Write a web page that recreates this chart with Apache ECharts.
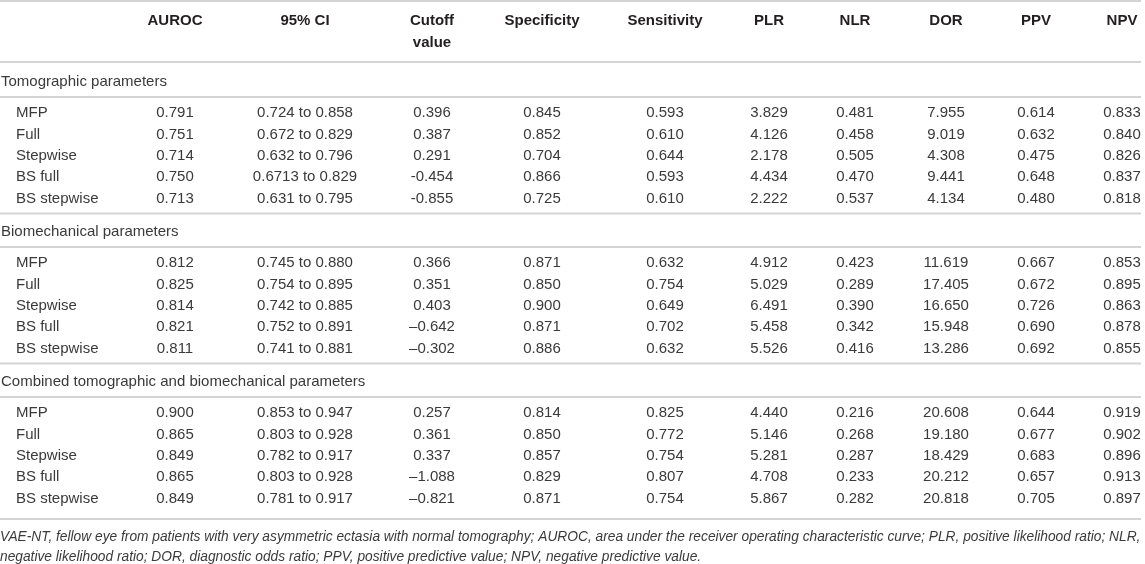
<!DOCTYPE html>
<html>
<head>
<meta charset="utf-8">
<script src="https://cdn.jsdelivr.net/npm/echarts@6/dist/echarts.min.js"></script>
<style>
  html, body { margin: 0; padding: 0; background: #fff; }
  #main { width: 1145px; height: 564px; }
</style>
</head>
<body>
<div id="main"></div>
<script>
var headers = ['AUROC', '95% CI', 'Cutoff', 'Specificity', 'Sensitivity', 'PLR', 'NLR', 'DOR', 'PPV', 'NPV'];
var headers2 = ['', '', 'value', '', '', '', '', '', '', ''];
var models = ['MFP', 'Full', 'Stepwise', 'BS full', 'BS stepwise'];
var sections = [
  'Tomographic parameters',
  'Biomechanical parameters',
  'Combined tomographic and biomechanical parameters'
];

var tomographic = [
  ['0.791', '0.724 to 0.858', '0.396', '0.845', '0.593', '3.829', '0.481', '7.955', '0.614', '0.833'],
  ['0.751', '0.672 to 0.829', '0.387', '0.852', '0.610', '4.126', '0.458', '9.019', '0.632', '0.840'],
  ['0.714', '0.632 to 0.796', '0.291', '0.704', '0.644', '2.178', '0.505', '4.308', '0.475', '0.826'],
  ['0.750', '0.6713 to 0.829', '-0.454', '0.866', '0.593', '4.434', '0.470', '9.441', '0.648', '0.837'],
  ['0.713', '0.631 to 0.795', '-0.855', '0.725', '0.610', '2.222', '0.537', '4.134', '0.480', '0.818']
];
var biomechanical = [
  ['0.812', '0.745 to 0.880', '0.366', '0.871', '0.632', '4.912', '0.423', '11.619', '0.667', '0.853'],
  ['0.825', '0.754 to 0.895', '0.351', '0.850', '0.754', '5.029', '0.289', '17.405', '0.672', '0.895'],
  ['0.814', '0.742 to 0.885', '0.403', '0.900', '0.649', '6.491', '0.390', '16.650', '0.726', '0.863'],
  ['0.821', '0.752 to 0.891', '\u20130.642', '0.871', '0.702', '5.458', '0.342', '15.948', '0.690', '0.878'],
  ['0.811', '0.741 to 0.881', '\u20130.302', '0.886', '0.632', '5.526', '0.416', '13.286', '0.692', '0.855']
];
var combined = [
  ['0.900', '0.853 to 0.947', '0.257', '0.814', '0.825', '4.440', '0.216', '20.608', '0.644', '0.919'],
  ['0.865', '0.803 to 0.928', '0.361', '0.850', '0.772', '5.146', '0.268', '19.180', '0.677', '0.902'],
  ['0.849', '0.782 to 0.917', '0.337', '0.857', '0.754', '5.281', '0.287', '18.429', '0.683', '0.896'],
  ['0.865', '0.803 to 0.928', '\u20131.088', '0.829', '0.807', '4.708', '0.233', '20.212', '0.657', '0.913'],
  ['0.849', '0.781 to 0.917', '\u20130.821', '0.871', '0.754', '5.867', '0.282', '20.818', '0.705', '0.897']
];

var footnote = [
  'VAE-NT, fellow eye from patients with very asymmetric ectasia with normal tomography; AUROC, area under the receiver operating characteristic curve; PLR, positive likelihood ratio; NLR,',
  'negative likelihood ratio; DOR, diagnostic odds ratio; PPV, positive predictive value; NPV, negative predictive value.'
];

// layout (pixels of the 1145x564 canvas, mapped through hidden value axes)
var colX = [175, 305, 432, 542, 665, 769, 855, 946, 1036, 1122];
var labelX = 16;
var sectionX = 1;
var lineEnd = 1141;
var rowStep = 21.4;
var blockStep = 150;

var FONT = '"Liberation Sans", Arial, Helvetica, sans-serif';
var cells = [];
var rules = [];

function cell(x, y, text, kind) {
  cells.push({ value: [x, y], text: text, kind: kind });
}

headers.forEach(function (h, i) {
  cell(colX[i], 21, h, 'head');
  if (headers2[i]) cell(colX[i], 43, headers2[i], 'head');
});
rules.push(1, 62);

[tomographic, biomechanical, combined].forEach(function (rows, s) {
  var base = s * blockStep;
  cell(sectionX, 81.5 + base, sections[s], 'section');
  rules.push(97 + base);
  rows.forEach(function (vals, r) {
    var y = 113 + base + r * rowStep;
    cell(labelX, y, models[r], 'label');
    vals.forEach(function (v, c) {
      cell(colX[c], y, v, 'value');
    });
  });
  rules.push(s < 2 ? 213.5 + base : 519);
});

footnote.forEach(function (t, i) {
  cell(0, 537 + i * 20.5, t, 'note');
});

var styles = {
  head: { font: 'bold 15px ' + FONT, fill: '#231f20', align: 'center' },
  section: { font: '15px ' + FONT, fill: '#3a3a3a', align: 'left' },
  label: { font: '15px ' + FONT, fill: '#3a3a3a', align: 'left' },
  value: { font: '15px ' + FONT, fill: '#3a3a3a', align: 'center' },
  note: { font: 'italic 13.75px ' + FONT, fill: '#3a3a3a', align: 'left' }
};

var chartDom = document.getElementById('main');
var myChart = echarts.init(chartDom, null, { renderer: 'canvas' });

var option = {
  animation: false,
  grid: { left: 0, right: 0, top: 0, bottom: 0 },
  xAxis: { type: 'value', min: 0, max: 1145, show: false },
  yAxis: { type: 'value', min: 0, max: 564, inverse: true, show: false },
  series: [
    {
      type: 'custom',
      clip: false,
      silent: true,
      data: rules.map(function (y) { return [0, y]; }),
      renderItem: function (params, api) {
        var a = api.coord([api.value(0), api.value(1)]);
        var b = api.coord([lineEnd, api.value(1)]);
        return {
          type: 'line',
          shape: { x1: a[0], y1: a[1], x2: b[0], y2: b[1] },
          style: { stroke: '#d4d4d4', lineWidth: 2 }
        };
      }
    },
    {
      type: 'custom',
      clip: false,
      silent: true,
      data: cells.map(function (c) { return c.value; }),
      renderItem: function (params, api) {
        var c = cells[params.dataIndex];
        var st = styles[c.kind];
        var p = api.coord([api.value(0), api.value(1)]);
        return {
          type: 'text',
          x: p[0],
          y: p[1],
          style: {
            text: c.text,
            font: st.font,
            fill: st.fill,
            align: st.align,
            verticalAlign: 'middle'
          }
        };
      }
    }
  ]
};

option && myChart.setOption(option);
</script>
</body>
</html>
